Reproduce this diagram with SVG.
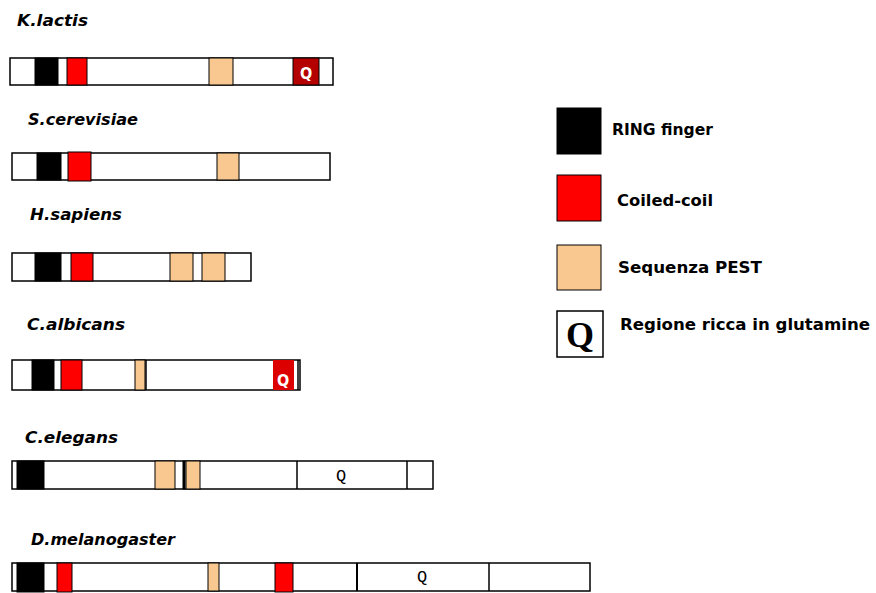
<svg xmlns="http://www.w3.org/2000/svg" width="876" height="593" viewBox="0 0 876 593">
<style>
.bg{fill:#ffffff}
.bar{fill:#ffffff;stroke:#000;stroke-width:1.5}
.ring{fill:#000;stroke:#000;stroke-width:1}
.cc{fill:#ff0000;stroke:#000;stroke-width:1}
.pest{fill:#f8c890;stroke:#000;stroke-width:1}
.div{stroke:#000;stroke-width:1.5}
.sp{font-family:"DejaVu Sans Condensed","DejaVu Sans",sans-serif;font-weight:bold;font-style:italic;font-size:16px;fill:#000}
.lg{font-family:"DejaVu Sans Condensed","DejaVu Sans",sans-serif;font-weight:bold;font-size:16px;fill:#000}
.qw{font-family:"DejaVu Sans Condensed","DejaVu Sans",sans-serif;font-weight:bold;font-size:16px;fill:#fff;text-anchor:middle}
.qp{font-family:"Liberation Mono","DejaVu Sans Mono",monospace;font-size:17px;fill:#000;text-anchor:middle}
</style>
<rect class="bg" x="0" y="0" width="876" height="593"/>

<g id="k-lactis">
<text class="sp" x="17" y="26" textLength="71" lengthAdjust="spacingAndGlyphs" font-size="17">K.lactis</text>
<rect class="bar" x="10" y="58" width="323" height="27"/>
<rect class="ring" x="35" y="58" width="23" height="27"/>
<rect class="cc" x="67" y="58" width="20" height="27"/>
<rect class="pest" x="209" y="58" width="24" height="27"/>
<rect x="293" y="58" width="26" height="27" fill="#b50000" stroke="#000" stroke-width="1"/>
<text class="qw" x="306" y="79">Q</text>
</g>

<g id="s-cerevisiae">
<text class="sp" x="28" y="125" textLength="110" lengthAdjust="spacingAndGlyphs">S.cerevisiae</text>
<rect class="bar" x="12" y="153" width="318" height="27"/>
<rect class="ring" x="37" y="153" width="24" height="27"/>
<rect class="cc" x="68" y="152" width="23" height="29"/>
<rect class="pest" x="217" y="153" width="22" height="27"/>
</g>

<g id="h-sapiens">
<text class="sp" x="30" y="220" textLength="92" lengthAdjust="spacingAndGlyphs">H.sapiens</text>
<rect class="bar" x="12" y="253" width="239" height="28"/>
<rect class="ring" x="35" y="253" width="26" height="28"/>
<rect class="cc" x="71" y="253" width="22" height="28"/>
<rect class="pest" x="170" y="253" width="23" height="28"/>
<rect class="pest" x="202" y="253" width="23" height="28"/>
</g>

<g id="c-albicans">
<text class="sp" x="27" y="330" textLength="98" lengthAdjust="spacingAndGlyphs">C.albicans</text>
<rect class="bar" x="12" y="360" width="288" height="30"/>
<rect class="ring" x="32" y="360" width="22" height="30"/>
<rect class="cc" x="61" y="360" width="21" height="30"/>
<rect class="pest" x="135" y="360" width="10" height="30"/>
<line class="div" x1="146" y1="360" x2="146" y2="390"/>
<rect x="273" y="360" width="21" height="30" fill="#dd0000"/>
<line class="div" x1="298" y1="360" x2="298" y2="390"/>
<text class="qw" x="283" y="386">Q</text>
</g>

<g id="c-elegans">
<text class="sp" x="25" y="443" textLength="93" lengthAdjust="spacingAndGlyphs">C.elegans</text>
<rect class="bar" x="12" y="461" width="421" height="28"/>
<rect class="ring" x="17" y="461" width="27" height="28"/>
<rect class="pest" x="155" y="461" width="20" height="28"/>
<rect class="ring" x="183" y="461" width="2" height="28"/>
<rect class="pest" x="186" y="461" width="14" height="28"/>
<line class="div" x1="297" y1="461" x2="297" y2="489"/>
<text class="qp" x="341" y="481">Q</text>
<line class="div" x1="407" y1="461" x2="407" y2="489"/>
</g>

<g id="d-melanogaster">
<text class="sp" x="31" y="545" textLength="144" lengthAdjust="spacingAndGlyphs">D.melanogaster</text>
<rect class="bar" x="12" y="563" width="578" height="28"/>
<rect class="ring" x="17" y="563" width="27" height="29"/>
<rect class="cc" x="57" y="563" width="15" height="29"/>
<rect class="pest" x="208" y="563" width="11" height="28"/>
<rect class="cc" x="275" y="563" width="18" height="29"/>
<line x1="357" y1="563" x2="357" y2="591" stroke="#000" stroke-width="2"/>
<text class="qp" x="422" y="582">Q</text>
<line class="div" x1="489" y1="563" x2="489" y2="591"/>
</g>

<g id="legend">
<g id="legend-ring">
<rect class="ring" x="557" y="108" width="44" height="46"/>
<text class="lg" x="612" y="135" textLength="101" lengthAdjust="spacingAndGlyphs">RING finger</text>
</g>
<g id="legend-coil">
<rect class="cc" x="557" y="175" width="44" height="46"/>
<text class="lg" x="617" y="206" textLength="96" lengthAdjust="spacingAndGlyphs">Coiled-coil</text>
</g>
<g id="legend-pest">
<rect class="pest" x="557" y="245" width="44" height="45"/>
<text class="lg" x="618" y="273" textLength="144" lengthAdjust="spacingAndGlyphs">Sequenza PEST</text>
</g>
<g id="legend-q">
<rect x="557" y="311" width="46" height="46" fill="#fff" stroke="#000" stroke-width="1.5"/>
<text x="580" y="347" text-anchor="middle" font-family="Liberation Serif, serif" font-weight="bold" font-size="36">Q</text>
<text class="lg" x="620" y="330" textLength="250" lengthAdjust="spacingAndGlyphs">Regione ricca in glutamine</text>
</g>
</g>
</svg>
